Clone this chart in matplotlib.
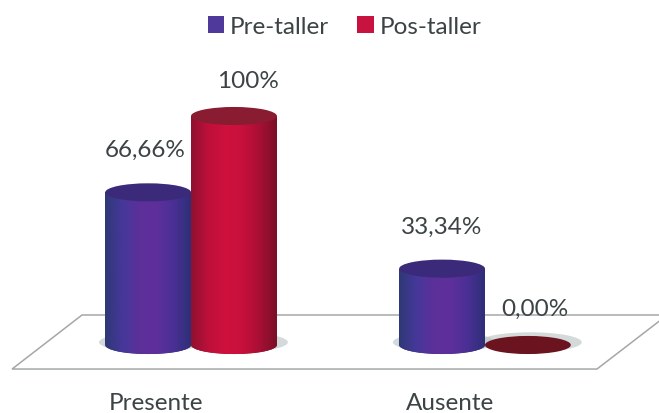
# 円柱風の棒グラフ
import numpy as np
import matplotlib
matplotlib.use("Agg")
import matplotlib.pyplot as plt
from matplotlib.colors import LinearSegmentedColormap
from matplotlib.patches import Ellipse, Patch, Polygon

categories = ["Presente", "Ausente"]
series_names = ["Pre-taller", "Pos-taller"]
pre_values = [66.66, 33.34]
pos_values = [100, 0]
pre_labels = ["66,66%", "33,34%"]
pos_labels = ["100%", "0,00%"]

BAR_WIDTH = 0.292
ELLIPSE_H = 7.9
TEXT_COLOR = "#3c4344"
FONT = "Lato"
FONT_SIZE = 17.5
PRE_CMAP = LinearSegmentedColormap.from_list("pre", ["#2f3876", "#45389a", "#5c3099", "#5f2f9c", "#4a3094", "#2e2f78"])
POS_CMAP = LinearSegmentedColormap.from_list("pos", ["#8f1030", "#bd103a", "#cf113e", "#c8103c", "#a80f34", "#7a1028"])
PRE_TOP = "#3b2a7a"
POS_TOP = "#8a1c32"
ZERO_TOP = "#6c1320"


def cylinder(ax, x, value, cmap, top_color, zorder):
    """
    円柱を1本描画する
    """
    grad = np.linspace(0, 1, 128).reshape(1, -1)
    left = x - BAR_WIDTH / 2
    right = x + BAR_WIDTH / 2

    # 影
    shadow = Ellipse((x + 0.008, 1.2), BAR_WIDTH * 1.2, ELLIPSE_H * 1.1, color="#b7c2c0", alpha=0.6, lw=0, zorder=zorder - 2.5)
    ax.add_patch(shadow)

    if value <= 0:
        ax.add_patch(Ellipse((x, 0), BAR_WIDTH, ELLIPSE_H, color=top_color, lw=0, zorder=zorder))
        return

    rect = ax.bar(x, value, BAR_WIDTH, color=top_color, lw=0, zorder=zorder)[0]
    bottom = Ellipse((x, 0), BAR_WIDTH, ELLIPSE_H, color=top_color, lw=0, zorder=zorder)
    ax.add_patch(bottom)

    # 横方向のグラデーション
    for clip in (rect, bottom):
        img = ax.imshow(grad, cmap=cmap, extent=(left, right, -ELLIPSE_H, value), aspect="auto", zorder=zorder + 0.1)
        img.set_clip_path(clip)

    ax.add_patch(Ellipse((x, value), BAR_WIDTH, ELLIPSE_H, color=top_color, lw=0, zorder=zorder + 0.2))


def main():
    fig = plt.figure(figsize=(6.59, 4.14), dpi=100)
    ax = fig.add_axes([0, 0, 1, 1])

    # 床
    floor = Polygon([(-0.609, -10.5), (1.381, -10.5), (1.62, 13.1), (-0.371, 13.1)], closed=True, fc="white", ec="#a3a8a6", lw=1.1, zorder=0)
    ax.add_patch(floor)

    offset = BAR_WIDTH / 2
    for i in range(len(categories)):
        cylinder(ax, i - offset, pre_values[i], PRE_CMAP, PRE_TOP, 3)
        cylinder(ax, i + offset, pos_values[i], POS_CMAP, POS_TOP if pos_values[i] > 0 else ZERO_TOP, 4)

    # 値ラベル
    style = dict(ha="center", va="center", fontsize=FONT_SIZE, color=TEXT_COLOR, family=FONT, zorder=6)
    ax.text(-offset - 0.01, pre_values[0] + 18.9, pre_labels[0], **style)
    ax.text(offset + 0.048, pos_values[0] + 15.7, pos_labels[0], **style)
    ax.text(1 - offset, pre_values[1] + 18.6, pre_labels[1], **style)
    ax.text(1 + offset + 0.024, pos_values[1] + 16.1, pos_labels[1], **style)

    # カテゴリラベル
    for i, name in enumerate(categories):
        ax.text(i - 0.12, -25.0, name, ha="center", va="center", fontsize=FONT_SIZE, color=TEXT_COLOR, family=FONT)

    handles = [Patch(fc="#4f3a9c", label=series_names[0]), Patch(fc="#c8123f", label=series_names[1])]
    ax.legend(handles=handles, loc="upper center", bbox_to_anchor=(0.523, 1.0), ncol=2, frameon=False,
              prop={"family": FONT, "size": FONT_SIZE}, labelcolor=TEXT_COLOR, handlelength=0.68, handleheight=0.68,
              handletextpad=0.25, columnspacing=1.15, borderaxespad=0.3)

    ax.set_xlim(-0.65, 1.592)
    ax.set_ylim(-29.7, 151.1)
    ax.axis("off")
    fig.savefig("out.png", dpi=100)


if __name__ == "__main__":
    main()
